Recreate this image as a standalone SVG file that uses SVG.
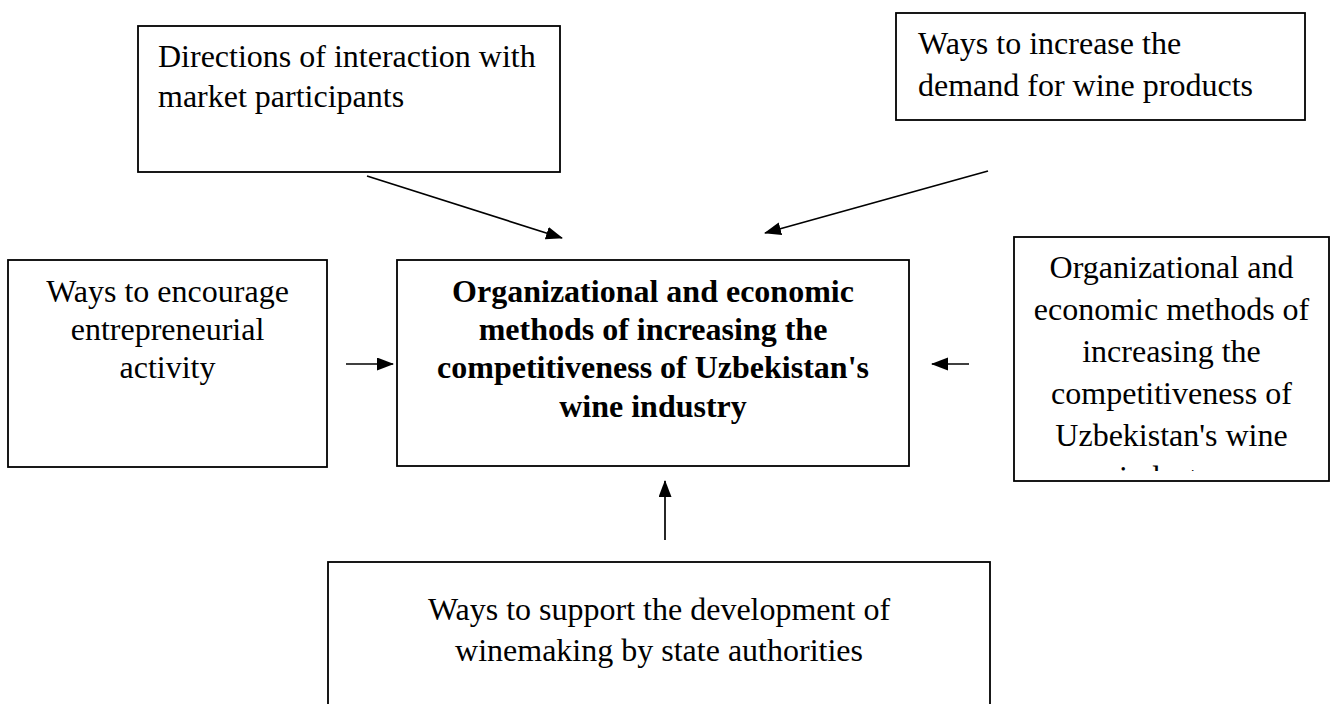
<svg xmlns="http://www.w3.org/2000/svg" width="1331" height="704" viewBox="0 0 1331 704">
  <style>
    .box { fill: #fff; stroke: #000; stroke-width: 1.8; }
    .t { font-family: "Liberation Serif", "Times New Roman", serif; font-size: 32px; fill: #000; }
    .c { text-anchor: middle; }
    .b { font-weight: bold; }
    .link { stroke: #000; stroke-width: 1.7; fill: none; marker-end: url(#head); }
  </style>
  <defs>
    <marker id="head" markerUnits="userSpaceOnUse" markerWidth="17" markerHeight="14" refX="16" refY="6.5" orient="auto">
      <path d="M0,0 L17,6.5 L0,13 z" fill="#000"/>
    </marker>
    <clipPath id="rightClip">
      <rect x="1014" y="237" width="315" height="234"/>
    </clipPath>
  </defs>

  <g id="node-market">
    <rect class="box" x="138" y="26" width="422" height="146"/>
    <text class="t" x="158" y="67">Directions of interaction with</text>
    <text class="t" x="158" y="107">market participants</text>
  </g>

  <g id="node-demand">
    <rect class="box" x="896" y="13" width="409" height="107"/>
    <text class="t" x="918" y="54">Ways to increase the</text>
    <text class="t" x="918" y="96">demand for wine products</text>
  </g>

  <g id="node-entrepreneur">
    <rect class="box" x="8" y="260" width="319" height="207"/>
    <text class="t c" x="167.5" y="302">Ways to encourage</text>
    <text class="t c" x="167.5" y="340">entrepreneurial</text>
    <text class="t c" x="167.5" y="378">activity</text>
  </g>

  <g id="node-center">
    <rect class="box" x="397" y="260" width="512" height="206"/>
    <text class="t c b" x="653" y="302">Organizational and economic</text>
    <text class="t c b" x="653" y="340">methods of increasing the</text>
    <text class="t c b" x="653" y="378">competitiveness of Uzbekistan's</text>
    <text class="t c b" x="653" y="417">wine industry</text>
  </g>

  <g id="node-methods">
    <rect class="box" x="1014" y="237" width="315" height="244"/>
    <g clip-path="url(#rightClip)">
      <text class="t c" x="1171.5" y="278">Organizational and</text>
      <text class="t c" x="1171.5" y="320">economic methods of</text>
      <text class="t c" x="1171.5" y="362">increasing the</text>
      <text class="t c" x="1171.5" y="404">competitiveness of</text>
      <text class="t c" x="1171.5" y="446">Uzbekistan's wine</text>
      <text class="t c" x="1171.5" y="488">industry</text>
    </g>
  </g>

  <g id="node-state">
    <rect class="box" x="328" y="562" width="662" height="160"/>
    <text class="t c" x="659" y="620">Ways to support the development of</text>
    <text class="t c" x="659" y="661">winemaking by state authorities</text>
  </g>

  <g id="connectors">
    <line class="link" x1="367" y1="176" x2="562" y2="238"/>
    <line class="link" x1="988" y1="171" x2="765" y2="233"/>
    <line class="link" x1="346" y1="364" x2="393" y2="364"/>
    <line class="link" x1="969" y1="364" x2="932" y2="364"/>
    <line class="link" x1="665" y1="540" x2="665" y2="481"/>
  </g>
</svg>
